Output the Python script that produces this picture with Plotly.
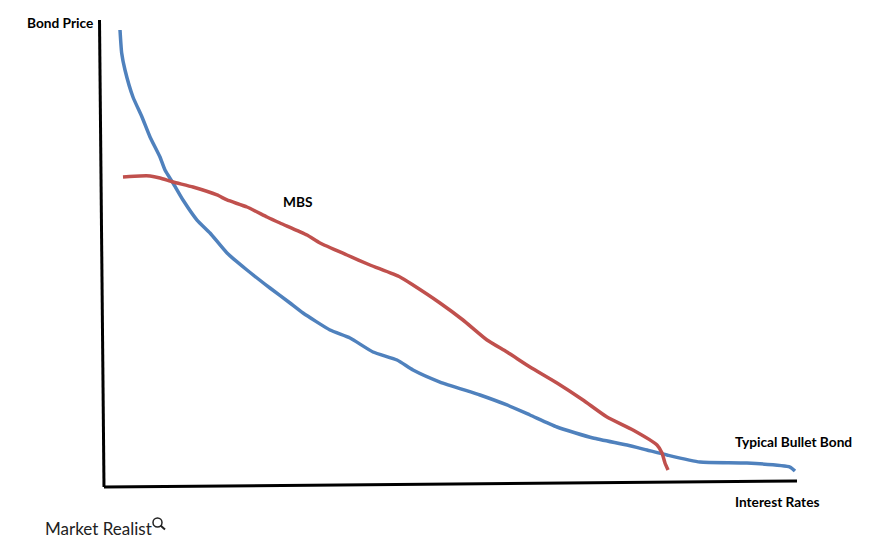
import plotly.graph_objects as go

# Hand-drawn diagram: interest rate (x, 0..10) vs bond price (y, 0..10)
bullet_rate = [0.231, 0.255, 0.303, 0.418, 0.548, 0.664, 0.808, 0.880, 0.996, 1.140, 1.342, 1.530,
               1.775, 2.063, 2.395, 2.684, 2.872, 3.261, 3.550, 3.882, 4.228, 4.459, 4.848,
               5.426, 5.815, 6.147, 6.537, 7.056, 7.547, 7.835, 8.124, 8.600, 9.278, 9.899, 9.971]
bullet_price = [9.786, 9.293, 8.929, 8.351, 7.923, 7.495, 7.066, 6.788, 6.510, 6.146, 5.717, 5.439,
                5.011, 4.647, 4.261, 3.940, 3.726, 3.362, 3.191, 2.891, 2.719, 2.505, 2.248,
                1.970, 1.756, 1.542, 1.285, 1.049, 0.899, 0.792, 0.685, 0.535, 0.514, 0.428, 0.343]

mbs_rate = [0.274, 0.519, 0.664, 0.808, 0.996, 1.284, 1.631, 1.775, 2.063, 2.352, 2.540, 2.929,
            3.117, 3.506, 3.838, 4.271, 4.459, 4.848, 5.180, 5.527, 5.815, 6.147, 6.537, 6.912,
            7.258, 7.633, 7.980, 8.052, 8.095, 8.139]
mbs_price = [6.638, 6.660, 6.660, 6.617, 6.531, 6.424, 6.253, 6.146, 5.996, 5.782, 5.653, 5.396,
             5.225, 4.968, 4.754, 4.497, 4.325, 3.940, 3.576, 3.148, 2.891, 2.570, 2.227, 1.863,
             1.499, 1.221, 0.899, 0.728, 0.514, 0.364]

# hand-drawn axis lines
yaxis_line_x = [-0.065, 0.0]
yaxis_line_y = [10.0, 0.0]
xaxis_line_x = [0.0, 10.0]
xaxis_line_y = [0.0, 0.128]

labels = {
    "y_title": "Bond Price",
    "x_title": "Interest Rates",
    "mbs": "MBS",
    "bullet": "Typical Bullet Bond",
    "brand": "Market Realist",
}

BLUE = "#4F81BD"
RED = "#C0504D"
FONT = "Lato"

fig = go.Figure()
fig.add_trace(go.Scatter(x=yaxis_line_x, y=yaxis_line_y, mode="lines",
                         line=dict(color="black", width=3), hoverinfo="skip"))
fig.add_trace(go.Scatter(x=xaxis_line_x, y=xaxis_line_y, mode="lines",
                         line=dict(color="black", width=3), hoverinfo="skip"))
fig.add_trace(go.Scatter(x=bullet_rate, y=bullet_price, mode="lines",
                         line=dict(color=BLUE, width=3.5, shape="spline", smoothing=0.5),
                         name="Typical Bullet Bond"))
fig.add_trace(go.Scatter(x=mbs_rate, y=mbs_price, mode="lines",
                         line=dict(color=RED, width=3.5, shape="spline", smoothing=0.5),
                         name="MBS"))

bold = dict(family=FONT, size=13.7, color="black")
fig.add_annotation(x=-0.13, y=9.957, text="<b>%s</b>" % labels["y_title"], showarrow=False,
                   xanchor="right", yanchor="middle", font=bold)
fig.add_annotation(x=2.80, y=6.124, text="<b>%s</b>" % labels["mbs"], showarrow=False,
                   xanchor="center", yanchor="middle", font=bold)
fig.add_annotation(x=9.076, y=0.985, text="<b>%s</b>" % labels["bullet"], showarrow=False,
                   xanchor="left", yanchor="middle", font=bold)
fig.add_annotation(x=9.076, y=-0.300, text="<b>%s</b>" % labels["x_title"], showarrow=False,
                   xanchor="left", yanchor="middle", font=bold)
fig.add_annotation(x=43 / 883, y=1 - 528 / 550, xref="paper", yref="paper",
                   text=labels["brand"], showarrow=False, xanchor="left", yanchor="middle",
                   font=dict(family=FONT, size=17, color="#222222"))

# magnifier icon next to brand
fig.add_shape(type="circle", xref="paper", yref="paper",
              x0=153 / 883, x1=162 / 883, y0=1 - 527 / 550, y1=1 - 518 / 550,
              line=dict(color="#222222", width=1.5))
fig.add_shape(type="line", xref="paper", yref="paper",
              x0=160.5 / 883, x1=165 / 883, y0=1 - 525.5 / 550, y1=1 - 529.5 / 550,
              line=dict(color="#222222", width=2))

fig.update_layout(
    width=883, height=550,
    margin=dict(l=0, r=0, t=0, b=0),
    paper_bgcolor="white", plot_bgcolor="white",
    showlegend=False,
    xaxis=dict(range=[-104 / 69.3, (883 - 104) / 69.3], visible=False, fixedrange=True),
    yaxis=dict(range=[(487 - 550) / 46.7, 487 / 46.7], visible=False, fixedrange=True),
)

fig.write_html("out.html", config={"displayModeBar": False},
               post_script="document.body.style.margin='0';document.body.style.overflow='hidden';")
